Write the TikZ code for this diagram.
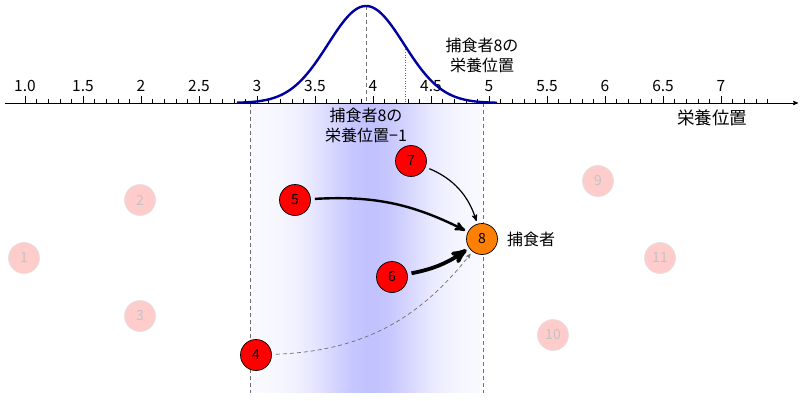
\documentclass[tikz,border=0pt]{standalone}
\usepackage{fontspec}
\setmainfont{Noto Sans CJK JP}
\usepackage{tikz}
\usetikzlibrary{arrows}

\definecolor{curveblue}{RGB}{0,0,160}
\definecolor{guidegray}{RGB}{110,110,110}
\definecolor{predorange}{RGB}{255,128,0}
\definecolor{fadefill}{RGB}{255,204,204}
\definecolor{fadeline}{RGB}{225,225,225}
\definecolor{fadetext}{RGB}{195,195,195}

\begin{document}
\begin{tikzpicture} [ x=1pt, y=-1pt,
    prey/.style={circle, draw=black, line width=0.7pt, fill=red, minimum size=31pt, inner sep=0pt, font=\fontsize{14}{14}\selectfont},
    pred/.style={prey, fill=predorange},
    faded/.style={prey, draw=fadeline, fill=fadefill, text=fadetext},
    guide/.style={draw=guidegray, line width=0.7pt, dash pattern=on 4pt off 3pt},
    lbl/.style={font=\fontsize{16}{20}\selectfont, align=center},
    ticklbl/.style={font=\fontsize{15.5}{16}\selectfont},
    feed/.style={-stealth', shorten <=4pt, shorten >=3pt},
    ]
    \useasboundingbox (0,0) rectangle (800,401);

    % band of the trophic position of 8
    \foreach \i in {250,252,...,481} {
        \pgfmathsetmacro\shadeamt{2+22*exp(-((\i-370)/40)^2/2)}
        \fill[blue!\shadeamt!white] (\i,103) rectangle (\i+2.2,393);
    }
    \coordinate (bandlefttop) at (250,103);
    \coordinate (bandleftbot) at (250,393);
    \coordinate (bandrighttop) at (483,103);
    \coordinate (bandrightbot) at (483,393);
    \draw[guide] (bandlefttop) -- (bandleftbot)
    (bandrighttop) -- (bandrightbot)
    ;

    % axis
    \coordinate (axisstart) at (5,103);
    \coordinate (axisend) at (798,103);
    \draw[line width=0.8pt, -stealth'] (axisstart) -- (axisend);
    \foreach \k in {0,...,64}
        \draw[line width=0.6pt] (25+\k*11.6,103) -- (25+\k*11.6,99);
    \foreach \v/\t in {1/1.0, 1.5/1.5, 2/2, 2.5/2.5, 3/3, 3.5/3.5, 4/4, 4.5/4.5, 5/5, 5.5/5.5, 6/6, 6.5/6.5, 7/7} {
        \draw[line width=0.6pt] (25+\v*116-116,103) -- (25+\v*116-116,96);
        \node[ticklbl] at (25+\v*116-116,86) {\t};
    }
    \node[lbl, font=\fontsize{17.5}{20}\selectfont] (axislbl) at (712,118) {栄養位置};

    % distribution
    \coordinate (peaktop) at (366,6);
    \coordinate (peakbot) at (366,103);
    \draw[guide] (peaktop) -- (peakbot);
    \coordinate (predtop) at (405.7,{103-97*exp(-((405.7-366)/38)^2/2)});
    \coordinate (predbot) at (405.7,103);
    \draw[guidegray, line width=0.6pt, dotted] (predtop) -- (predbot);
    \draw[curveblue, line width=2.4pt] plot[domain=237:497, samples=120, smooth] (\x, {103-97*exp(-((\x-366)/38)^2/2)});

    \node[lbl] (tplabel) at (482,55) {捕食者8の\\栄養位置};
    \node[lbl] (tplabelm) at (366,125) {捕食者8の\\栄養位置−1};

    % species
    \node[faded] (n1) at (24,258) {1};
    \node[faded] (n2) at (140,200) {2};
    \node[faded] (n3) at (140,316) {3};
    \node[prey] (n4) at (256,355) {4};
    \node[prey] (n5) at (295,200) {5};
    \node[prey] (n6) at (392,277) {6};
    \node[prey] (n7) at (411,161) {7};
    \node[pred] (n8) at (482,239) {8};
    \node[faded] (n9) at (598,181) {9};
    \node[faded] (n10) at (553,335) {10};
    \node[faded] (n11) at (660,258) {11};
    \node[lbl] (predlbl) at (531,239) {捕食者};

    \draw[feed, line width=2.4pt] (n5) to[bend left=15] (n8);
    \draw[feed, line width=1.2pt] (n7) to[bend left=25] (n8);
    \draw[feed, line width=3.8pt] (n6) to[bend right=12] (n8);
    \draw[feed, guide, dash pattern=on 4pt off 3pt] (n4) to[bend right=25] (n8);

\end{tikzpicture}
\end{document}
